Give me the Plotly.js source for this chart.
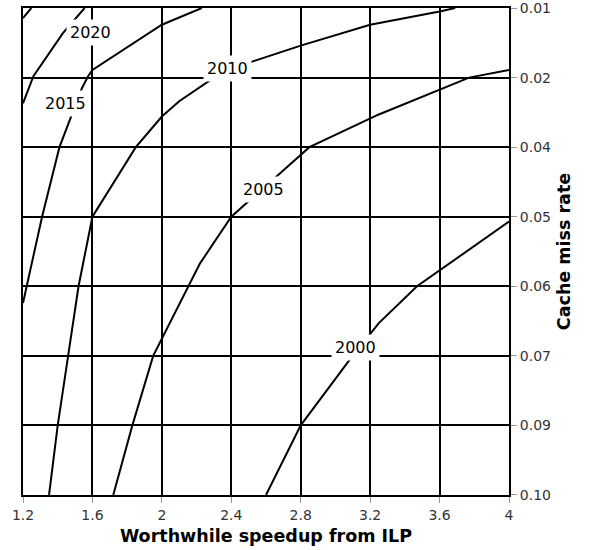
<!DOCTYPE html>
<html>
<head>
<meta charset="utf-8">
<script src="https://cdn.plot.ly/plotly-3.0.1.min.js"></script>
<style>html,body{margin:0;padding:0;background:#fff;}</style>
</head>
<body>
<div id="chart" style="width:589px;height:550px;"></div>
<script>
// X axis ticks (worthwhile speedup from ILP)
var speedupTicks = [1.2, 1.6, 2.0, 2.4, 2.8, 3.2, 3.6, 4.0];
var speedupTickText = ['1.2', '1.6', '2', '2.4', '2.8', '3.2', '3.6', '4'];
// Y axis: cache miss rate rows (evenly spaced categories, top to bottom)
var missRateRows = [0, 1, 2, 3, 4, 5, 6, 7];
var missRateText = ['0.01', '0.02', '0.04', '0.05', '0.06', '0.07', '0.09', '0.10'];

// Curves: x = speedup, y = miss-rate row position
var speedup2000 = [2.60, 2.80, 3.09, 3.25, 3.47, 3.60, 4.00];
var row2000     = [7.00, 6.00, 5.03, 4.53, 4.00, 3.77, 3.07];

var speedup2005 = [1.72, 1.83, 1.95, 2.00, 2.15, 2.22, 2.40, 2.65, 2.85, 3.25, 3.60, 3.77, 4.00];
var row2005     = [7.00, 6.00, 5.00, 4.75, 4.00, 3.67, 3.00, 2.45, 2.00, 1.53, 1.17, 1.00, 0.89];

var speedup2010 = [1.35, 1.40, 1.46, 1.52, 1.60, 1.85, 2.00, 2.10, 2.30, 2.52, 2.80, 3.20, 3.60, 3.69];
var row2010     = [7.00, 6.00, 5.00, 4.00, 3.00, 2.00, 1.56, 1.34, 1.00, 0.77, 0.54, 0.24, 0.05, 0.00];

var speedup2015 = [1.20, 1.31, 1.41, 1.48, 1.54, 1.575, 1.60, 2.00, 2.23];
var row2015     = [4.24, 3.00, 2.00, 1.53, 1.15, 0.98, 0.89, 0.24, 0.00];

var speedup2020 = [1.20, 1.26, 1.43, 1.50, 1.555];
var row2020     = [1.37, 0.98, 0.36, 0.16, 0.00];

var speedupCorner = [1.20, 1.248];
var rowCorner     = [0.144, 0.00];

// Curve labels
var labelText  = ['2000', '2005', '2010', '2015', '2020'];
var labelX     = [3.115, 2.587, 2.376, 1.445, 1.586];
var labelRow   = [4.873, 2.614, 0.873, 1.377, 0.345];

var lineStyle = {color: '#000', width: 2};
var curves = [
  [speedup2000, row2000], [speedup2005, row2005], [speedup2010, row2010],
  [speedup2015, row2015], [speedup2020, row2020], [speedupCorner, rowCorner]
];
var traces = curves.map(function (c) {
  return {x: c[0], y: c[1], type: 'scatter', mode: 'lines', line: lineStyle,
          hoverinfo: 'skip', showlegend: false, cliponaxis: true};
});

var annotations = labelText.map(function (t, i) {
  return {x: labelX[i], y: labelRow[i], xref: 'x', yref: 'y', text: t,
          showarrow: false, bgcolor: '#fff', borderpad: 3,
          xanchor: 'center', yanchor: 'middle',
          font: {family: 'DejaVu Sans, Verdana, sans-serif', size: 16, color: '#000'}};
});

var tickFont = {family: 'DejaVu Sans, Verdana, sans-serif', size: 14, color: '#333'};
var titleFont = {family: 'DejaVu Sans, Verdana, sans-serif', size: 17.5, color: '#000'};

var layout = {
  width: 589, height: 550,
  margin: {l: 23, r: 80, t: 8, b: 55},
  paper_bgcolor: '#fff', plot_bgcolor: '#fff',
  showlegend: false,
  xaxis: {
    range: [1.2, 4.0], tickmode: 'array', tickvals: speedupTicks, ticktext: speedupTickText,
    showgrid: true, gridcolor: '#000', gridwidth: 2, zeroline: false,
    showline: true, mirror: true, linecolor: '#000', linewidth: 2,
    ticks: 'outside', ticklen: 6, tickcolor: '#999', tickwidth: 1,
    tickfont: tickFont, ticklabeloverflow: 'allow',
    title: {text: '<b>Worthwhile speedup from ILP</b>', font: titleFont, standoff: 8}
  },
  yaxis: {
    range: [7.0005, -0.0005], side: 'right', tickmode: 'array', tickvals: missRateRows, ticktext: missRateText,
    showgrid: true, gridcolor: '#000', gridwidth: 2, zeroline: false,
    showline: true, mirror: true, linecolor: '#000', linewidth: 2,
    ticks: 'outside', ticklen: 6, tickcolor: '#999', tickwidth: 1,
    tickfont: tickFont, ticklabeloverflow: 'allow',
    title: {text: '<b>Cache miss rate</b>', font: titleFont, standoff: 8}
  },
  annotations: annotations
};

Plotly.newPlot('chart', traces, layout, {staticPlot: true, displayModeBar: false});
</script>
</body>
</html>
